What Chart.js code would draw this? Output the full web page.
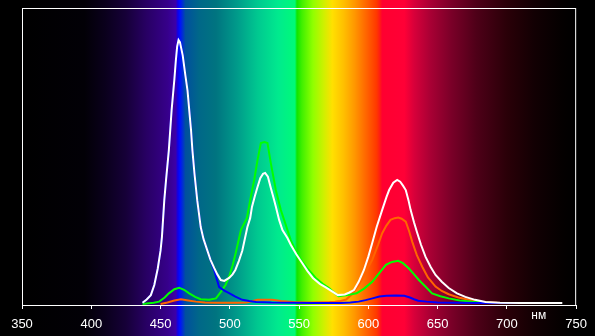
<!DOCTYPE html>
<html>
<head>
<meta charset="utf-8">
<script src="https://cdn.jsdelivr.net/npm/chart.js@4/dist/chart.umd.min.js"></script>
<style>
html,body{margin:0;padding:0;background:#000;}
#c{display:block;}
</style>
</head>
<body>
<canvas id="c" width="595" height="336"></canvas>
<script>
// Wavelength axis (nm)
const xMin = 350, xMax = 750, xStep = 50;
const unitLabel = 'нм';

// Series: [wavelength nm, relative intensity]
const whiteSeries = [[437,0.4],[440,1.5],[443,3],[445.5,6.4],[448,12],[450,18],[451,22.6],[452.7,35],[454,42],[456,52],[458,65.5],[460,76],[461,82],[462,87],[463,89.2],[464,88.5],[466,84],[468,77],[469.5,72],[471,64],[472,58.8],[473,52],[474.5,44],[476.5,35],[479,26],[481,22],[483.7,18.2],[486,15],[488.7,12.2],[491,10],[493.5,8.1],[496,7.8],[499.5,8.8],[502,10],[504,11.5],[506.5,14.5],[509,18],[512.7,26],[514.7,29],[516,32.8],[518,36.3],[520,39.5],[522,42.5],[524,44],[525.5,44.3],[527.5,43],[529.6,39.2],[531.5,36],[533.2,32.9],[535.6,28.4],[538,25],[541.6,22.3],[544,20],[548,16.8],[552,14],[556,11.2],[560,8.8],[565,6.8],[569,5.7],[573,4.5],[578,3.0],[583,3.2],[586,3.8],[589.6,4.7],[593,7.5],[596.8,11.5],[600,16],[602.8,20.6],[606,26],[610,31.8],[613,36],[615,38.5],[618,41],[620.8,41.9],[623,41.3],[625,40],[627,38.5],[629,35],[630.5,31.8],[633,27.5],[635.3,24],[638,20],[641.3,15.9],[645,12.5],[648.5,9.8],[653,7.5],[658,5.4],[664,3.6],[670,2.4],[677,1.4],[684.6,0.7],[695,0.4],[710,0.3],[740,0.3]];

const blueSeries = [[437,0.4],[440,1.5],[443,3],[445.5,6.4],[448,12],[450,18],[451,22.6],[452.7,35],[454,42],[456,52],[458,65.5],[460,76],[461,82],[462,87],[463,89.2],[464,88.5],[466,84],[468,77],[469.5,72],[471,64],[472,58.8],[473,52],[474.5,44],[476.5,35],[479,26],[481,22],[483.7,18.2],[486,15],[488.7,11.5],[490.5,8.5],[492.3,5.7],[496,4.5],[499.5,3.7],[504,2.5],[509,1.4],[514,1.0],[519,0.7],[530,0.5],[545,0.4],[560,0.3],[580,0.3],[587,0.5],[593,0.8],[598,1.3],[603,1.9],[608,2.5],[613,2.8],[620,2.9],[626,2.8],[630,2.2],[633,1.6],[636,1.1],[642,0.8],[650,0.5],[665,0.4],[680,0.3],[710,0.3]];

const greenSeries = [[437,0],[440,0.2],[445,0.4],[449,0.8],[453,2.2],[456,3.6],[460,5],[463.5,5.5],[467,4.8],[470.7,3.6],[475,2.4],[479,1.6],[485,1.4],[490,1.9],[494.5,4.7],[497,6.5],[499.5,9.2],[502,13],[504.4,17.5],[508,25],[512.3,29],[514.7,35.1],[517.6,41.9],[520,48.6],[522.4,54.4],[525,54.7],[527.2,54.4],[529.6,47.6],[533.2,38.5],[536.8,31.8],[539.2,28.4],[544,21.6],[548,17.5],[552,14.5],[556,12],[562,8.8],[567,6.8],[571.6,5.4],[575,4],[578.4,2.6],[585,3],[591.5,3.6],[597,5.2],[602.8,7.5],[608,10.5],[612.7,13.2],[617,14.2],[621.6,14.6],[625,13.8],[629.3,12],[633,10],[636.5,8.1],[641,6],[646,3.6],[652,2.6],[658,1.9],[666,1.2],[675,0.8],[688,0.4],[699,0.3]];

const orangeSeries = [[450,0],[455,0.5],[460,1.2],[464.7,1.6],[470,1.2],[475.5,0.8],[482,0.5],[490,0.4],[505,0.4],[512,0.5],[516,0.9],[520,1.4],[530.5,1.4],[537,1.0],[546,0.7],[555,0.5],[565,0.6],[572,0.7],[576,0.8],[580,1.0],[584,1.5],[588,3.2],[593,6.4],[597,9.5],[600,12.5],[602.8,14.9],[607,20],[610,23.9],[613,26.5],[616,28.4],[619,29],[621.6,29.2],[624,28.8],[627,27.8],[629.5,24.5],[631.7,21],[635,16.5],[638.9,12.6],[643,9],[648.5,5.9],[653,4.4],[658,3.3],[665,2.2],[672.5,1.4],[680,0.8],[693,0.4]];

// Spectrum background colour stops (nm -> colour)
const spectrumStops = [[350,'#000000'],[395,'#020006'],[410,'#0a001c'],[425,'#160038'],[440,'#280064'],[455,'#36008a'],[461,'#3c00a8'],[462.5,'#1000e8'],[464,'#0010ff'],[466,'#0030d0'],[468,'#00509e'],[478,'#006888'],[490,'#007480'],[505,'#009a8a'],[520,'#00c890'],[535,'#00ea8e'],[547,'#00fa78'],[548.5,'#10e400'],[552,'#40f000'],[560,'#90ff00'],[568,'#d0f000'],[574,'#ffe000'],[582,'#ffc000'],[590,'#ff9800'],[598,'#ff6800'],[606,'#ff3800'],[608,'#ff2010'],[610,'#ff0030'],[626,'#ff0036'],[633,'#d8003a'],[645,'#a80034'],[660,'#7a0028'],[678,'#4e0018'],[700,'#2a0008'],[720,'#120003'],[740,'#040000'],[750,'#000000']];

const toXY = s => s.map(p => ({x: p[0], y: p[1]}));

const spectrumPlugin = {
  id: 'spectrum',
  beforeDraw(chart) {
    const ctx = chart.ctx, a = chart.chartArea, xs = chart.scales.x;
    ctx.save();
    ctx.fillStyle = '#000';
    ctx.fillRect(0, 0, chart.width, chart.height);
    const g = ctx.createLinearGradient(a.left, 0, a.right, 0);
    spectrumStops.forEach(([nm, col]) => {
      const off = (xs.getPixelForValue(nm) - a.left) / (a.right - a.left);
      g.addColorStop(Math.min(1, Math.max(0, off)), col);
    });
    ctx.fillStyle = g;
    ctx.fillRect(a.left, 0, a.right - a.left, chart.height);
    ctx.restore();
  },
  afterDraw(chart) {
    const ctx = chart.ctx, a = chart.chartArea, xs = chart.scales.x;
    ctx.save();
    ctx.strokeStyle = '#fff';
    ctx.lineWidth = 1;
    ctx.strokeRect(a.left + 0.5, a.top + 0.5, a.right - a.left - 1, a.bottom - a.top);
    ctx.fillStyle = '#fff';
    ctx.font = '12px "Liberation Sans", Arial, sans-serif';
    ctx.textAlign = 'center';
    ctx.textBaseline = 'middle';
    ctx.fillText(unitLabel, xs.getPixelForValue(723), 316);
    ctx.restore();
  }
};

new Chart(document.getElementById('c'), {
  type: 'line',
  data: {
    datasets: [
      {data: toXY(whiteSeries), borderColor: '#ffffff'},
      {data: toXY(blueSeries), borderColor: '#0000ff'},
      {data: toXY(greenSeries), borderColor: '#00ff00'},
      {data: toXY(orangeSeries), borderColor: '#ff6400'}
    ]
  },
  options: {
    responsive: false,
    animation: false,
    devicePixelRatio: 1,
    layout: {padding: {left: 22, right: 17, top: 8, bottom: 0}},
    elements: {
      point: {radius: 0},
      line: {borderWidth: 2, tension: 0, fill: false}
    },
    plugins: {legend: {display: false}, tooltip: {enabled: false}},
    scales: {
      x: {
        type: 'linear', min: xMin, max: xMax,
        afterFit: s => { s.height = 31; },
        ticks: {stepSize: xStep, color: '#fff', padding: 8, maxRotation: 0, autoSkip: false,
                font: {family: '"Liberation Sans", Arial, sans-serif', size: 13}},
        grid: {drawOnChartArea: false, color: '#fff', tickColor: '#fff', tickLength: 4, lineWidth: 1},
        border: {display: false}
      },
      y: {display: false, min: -0.34, max: 100}
    }
  },
  plugins: [spectrumPlugin]
});
</script>
</body>
</html>
